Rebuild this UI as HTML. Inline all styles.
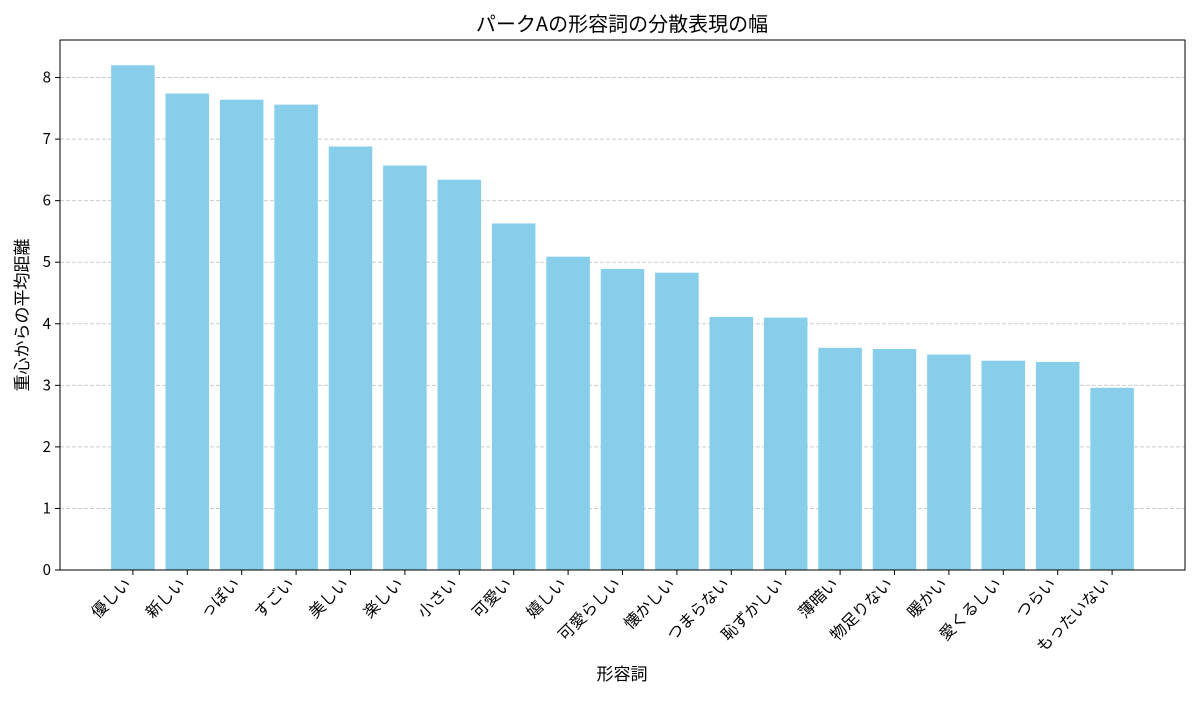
<!DOCTYPE html>
<html><head><meta charset="utf-8"><style>
body{margin:0;background:#fff}
text{font-family:"Noto Sans CJK JP","Liberation Sans",sans-serif;fill:#000}
</style></head><body>
<svg id="chart" width="1200" height="700">
<text x="622" y="31" font-size="20" text-anchor="middle">パークAの形容詞の分散表現の幅</text>
<text x="622" y="680" font-size="17" text-anchor="middle">形容詞</text>
<text transform="translate(28,315) rotate(-90)" font-size="17" text-anchor="middle">重心からの平均距離</text>
<g id="grid"></g><g id="bars"></g><g id="axes"></g>
</svg>
<script>
const categories=["優しい","新しい","っぽい","すごい","美しい","楽しい","小さい","可愛い","嬉しい","可愛らしい","懐かしい","つまらない","恥ずかしい","薄暗い","物足りない","暖かい","愛くるしい","つらい","もったいない"];
const values=[8.20,7.74,7.64,7.56,6.88,6.57,6.34,5.63,5.09,4.89,4.83,4.11,4.10,3.61,3.59,3.50,3.40,3.38,2.96];
const yTicks=[0,1,2,3,4,5,6,7,8];
const L=60,R=1185,T=40,B=570,yMax=8.61;
const n=categories.length;
const xMin=-0.4-0.05*(n-0.2),xMax=n-0.6+0.05*(n-0.2);
const xs=v=>L+(v-xMin)/(xMax-xMin)*(R-L);
const ys=v=>B-v/yMax*(B-T);
const NS="http://www.w3.org/2000/svg";
function mk(tag,attrs,parent,txt){const e=document.createElementNS(NS,tag);for(const k in attrs)e.setAttribute(k,attrs[k]);if(txt!==undefined)e.textContent=txt;parent.appendChild(e);return e;}
const grid=document.getElementById('grid'),bars=document.getElementById('bars'),axes=document.getElementById('axes');
yTicks.forEach(t=>{
 const y=ys(t);
 const g=mk('line',{x1:L,x2:R,y1:y,y2:y,stroke:'#cccccc','stroke-dasharray':'4,2','stroke-width':1},grid);
 
 
 mk('line',{x1:L-5,x2:L,y1:y,y2:y,stroke:'#000'},axes);
 const lb=mk('text',{x:L-9,y:y+5,'font-size':15,'text-anchor':'end'},axes,String(t));
 
 
});
categories.forEach((c,i)=>{
 const x0=xs(i-0.4),x1=xs(i+0.4),y=ys(values[i]);
 const r=mk('rect',{x:x0,y:y,width:x1-x0,height:B-y,fill:'#87ceeb'},bars);
 
 
 const cx=xs(i);
 mk('line',{x1:cx,x2:cx,y1:B,y2:B+5,stroke:'#000'},axes);
 const t=mk('text',{transform:`translate(${cx-1},${B+15}) rotate(-45)`,'font-size':16,'text-anchor':'end'},axes,c);
 
 
});
const fr=mk('rect',{x:L,y:T,width:R-L,height:B-T,fill:'none',stroke:'#000','stroke-width':1},axes);


</script>
</body></html>
